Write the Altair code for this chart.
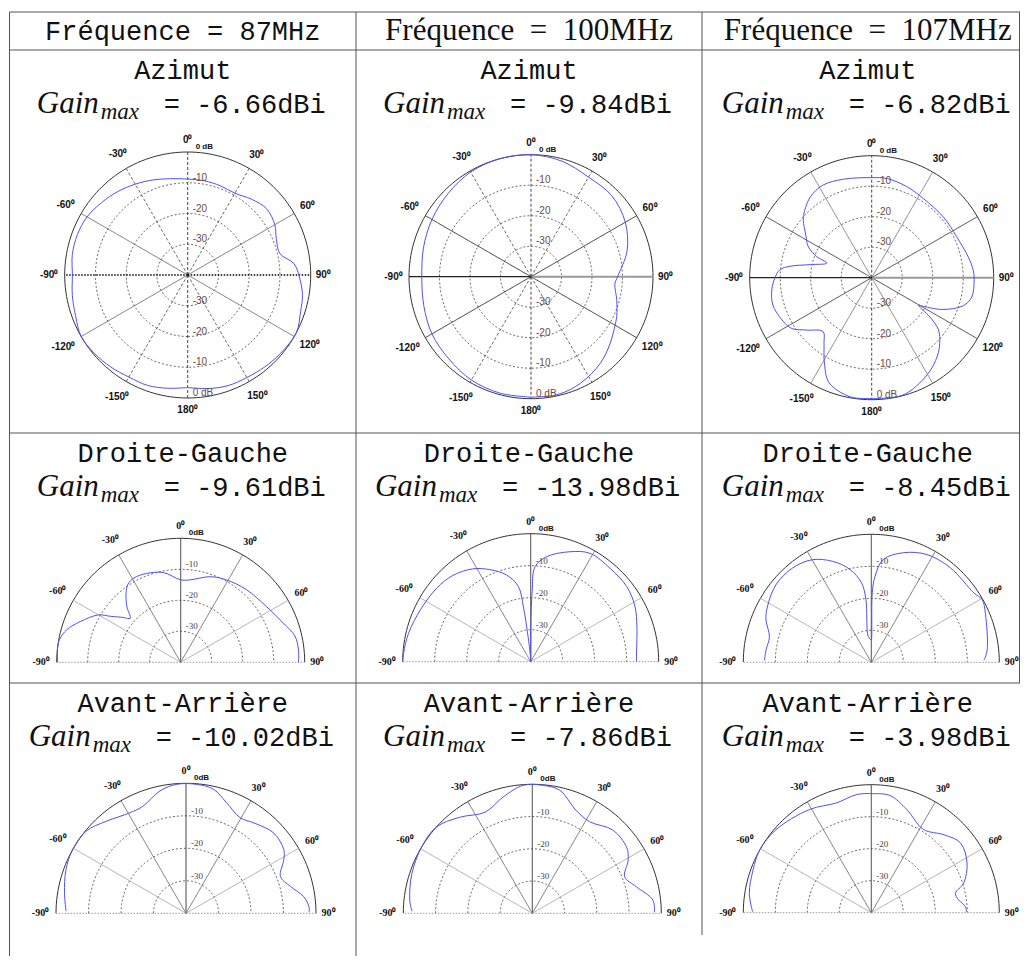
import math
import pandas as pd
import altair as alt

# ---------------- data ----------------
HEADERS = ["Fréquence = 87MHz", "Fréquence\u2002=\u2002100MHz", "Fréquence\u2002=\u2002107MHz"]
ROW_TITLES = ["Azimut", "Droite-Gauche", "Avant-Arrière"]
GAINS = [["-6.66", "-9.84", "-6.82"],
         ["-9.61", "-13.98", "-8.45"],
         ["-10.02", "-7.86", "-3.98"]]

# Azimut (full circle), angle in degrees (0 = top, clockwise), level in dB
AZ87_ANG = [-180, -170, -160, -150, -140, -130, -120, -110, -100, -90, -80, -70, -60, -50, -40, -30, -20, -10,
            0, 10, 20, 30, 40, 50, 60, 68, 77, 84, 92, 100, 108, 118, 130, 140, 150, 160, 170, 180]
AZ87_DB = [-3.4, -2.6, -1.8, -1.7, -1.0, -0.4, 0.0, -1.2, -1.9, -2.5, -1.9, -1.8, -2.2, -3.4, -4.6, -5.9, -7.1, -8.2,
           -8.8, -8.9, -9.1, -9.3, -7.8, -6.5, -7.3, -8.9, -9.2, -5.2, -3.5, -2.1, -1.4, 0.0, -0.5, -1.0, -1.5, -1.7, -2.5, -3.4]

AZ100_ANG = [-180, -165, -150, -135, -120, -105, -90, -75, -60, -45, -30, -15, 0, 15, 30, 45, 60, 75,
             90, 95, 105, 115, 121, 130, 141, 155, 167, 180]
AZ100_DB = [-0.5, -0.5, -0.9, -1.9, -2.5, -3.6, -4.2, -3.5, -2.5, -1.5, -0.4, 0.0, 0.0, -0.8, -2.3, -2.5, -4.3, -7.4,
            -11.6, -12.4, -10.9, -9.0, -8.0, -6.1, -3.7, -1.5, -0.4, -0.5]

AZ107_ANG = [-180, -170, -158, -151, -144, -138, -129, -123, -119, -106, -97, -90, -85, -82, -78, -72, -69, -64,
             -56, -50, -45, -37, -28, -16, 0, 9, 21, 33, 50, 64, 78, 86, 91, 101, 107, 114, 119, 120.5, 124,
             128, 134, 140, 150, 165, 180]
AZ107_DB = [-0.4, -0.3, -2.8, -8.0, -13.4, -16.2, -12.7, -9.2, -8.1, -6.4, -7.0, -8.3, -9.8, -13.0, -19.4, -24.5,
            -20.7, -16.9, -13.8, -10.7, -8.9, -6.7, -5.7, -6.4, -7.2, -7.1, -8.0, -9.0, -9.2, -9.1, -7.6, -6.6,
            -6.4, -6.6, -8.6, -14.4, -20.6, -22.3, -17.0, -12.2, -9.0, -6.5, -3.4, -0.2, -0.4]

# Droite-Gauche (half circle)
DG87_ANG = [-90, -83, -79, -74, -68, -60, -57, -52, -49, -44, -38, -34, -29, -21, -11, 0, 6, 19, 29, 42, 57, 69, 77, 84, 90]
DG87_DB = [-0.3, 0.0, -0.3, -1.8, -5.0, -9.4, -12.7, -16.5, -18.4, -15.0, -11.4, -9.6, -8.9, -9.3, -10.5, -13.4,
           -13.3, -10.8, -9.6, -8.4, -7.0, -4.6, -2.2, -1.8, -2.0]

DG100_ANG = [-90, -86, -77, -65, -52, -42, -32, -24, -15.5, -9.3, -7.6, -6, -3, -1, 0.5, 1.2, 2.6, 8.7, 19.7,
             28.7, 40.4, 52, 62, 72, 87, 90]
DG100_DB = [0.0, -0.2, -0.8, -1.9, -2.7, -3.7, -5.8, -8.5, -11.9, -16.2, -22.7, -32.0, -38.0, -40.0, -25.0, -18.0,
            -10.3, -6.8, -3.5, -1.4, -1.7, -1.9, -3.1, -5.1, -6.9, -6.9]

DG107_ANG = [-89, -83, -76, -68, -62, -51, -40, -30, -21, -13, -7, -4.9, -6.7, 0, 0.8, 0.8, 2.5, 6.7, 16.4, 27.3,
             40, 56, 60.5, 66.7, 84, 89]
DG107_DB = [-6.6, -6.9, -7.2, -4.5, -3.2, -1.6, -1.6, -3.0, -6.2, -10.2, -15.0, -20.3, -31.9, -33.0, -32.5, -18.3,
            -13.1, -7.6, -4.3, -2.1, -1.5, -1.3, -0.2, -1.2, -3.6, -4.8]

# Avant-Arriere (half circle)
AA87_ANG = [-89, -80.6, -70, -60.7, -50.6, -41, -29, -22, -12, -4, 5, 12.5, 20, 29.6, 37, 47.5, 57, 61.3, 68.7,
            75.6, 82, 87, 89.5]
AA87_DB = [-3.1, -2.1, -0.7, 0.0, -0.2, -2.5, -4.6, -4.5, -1.5, -0.2, -0.2, -0.9, -3.7, -6.2, -5.2, -3.4, -4.1,
           -5.7, -8.8, -6.8, -3.4, -2.1, -2.1]

AA100_ANG = [-89, -84, -72, -59, -48, -37, -25, -14, -4, 5, 12.6, 23, 32, 44, 55, 61, 68.4, 75.7, 83.7, 89.5]
AA100_DB = [-2.7, -1.8, -0.7, 0.0, 0.0, -2.7, -5.4, -2.8, -0.2, -0.2, -0.9, -5.3, -6.5, -4.1, -4.3, -6.0, -9.2,
            -6.7, -2.4, -2.1]

AA107_ANG = [-89.5, -81, -70, -60.6, -49, -31, -17.6, -7, 1, 9, 19, 32, 43, 52, 62.6, 72.3, 77, 81.7, 86.3, 89.5]
AA107_DB = [-2.9, -1.4, -0.7, 0.0, -0.5, -2.4, -4.0, -2.8, -2.8, -2.9, -5.9, -9.3, -6.7, -4.6, -6.3, -9.7, -13.0,
            -12.4, -10.5, -10.3]

RING_LEVELS = [-30, -20, -10, 0]
FULL_TICKS = [0, 30, 60, 90, 120, 150, 180, -150, -120, -90, -60, -30]
HALF_TICKS = [-90, -60, -30, 0, 30, 60, 90]

# ---------------- layout (page pixels) ----------------
W, H = 1012, 948
X0, Y0 = 8, 8
COL_X = [9.5, 356, 702, 1027.5]
ROW_Y = [12, 50, 433, 683]
RIGHT_EDGE = X0 + W - 0.5

PANELS = [
    # key, kind, cx, cy, R, angles, levels
    ("az87", "full", 187.7, 275.0, 123, AZ87_ANG, AZ87_DB),
    ("az100", "full", 531.0, 276.7, 122, AZ100_ANG, AZ100_DB),
    ("az107", "full", 871.7, 277.7, 122, AZ107_ANG, AZ107_DB),
    ("dg87", "half", 180.7, 662.3, 124, DG87_ANG, DG87_DB),
    ("dg100", "half", 530.7, 661.7, 128, DG100_ANG, DG100_DB),
    ("dg107", "half", 871.3, 662.3, 128, DG107_ANG, DG107_DB),
    ("aa87", "half", 186.0, 913.3, 130, AA87_ANG, AA87_DB),
    ("aa100", "half", 532.3, 913.3, 129, AA100_ANG, AA100_DB),
    ("aa107", "half", 871.3, 912.7, 128, AA107_ANG, AA107_DB),
]

# spoke styles (colour, width, dash style)
FULL_SPOKES = {
    "az87": {0: ("#333", 0.9, "dash"), 180: ("#333", 0.9, "dash"), 30: ("#444", 0.8, "dash"),
             -150: ("#444", 0.8, "dash"), -30: ("#444", 0.8, "dash"), 150: ("#444", 0.8, "dash"),
             60: ("#555", 0.8, "solid"), -120: ("#555", 0.8, "solid"), -60: ("#555", 0.8, "solid"),
             120: ("#555", 0.8, "solid"), 90: ("#000", 1.4, "dot"), -90: ("#000", 1.4, "dot")},
    "az100": {0: ("#333", 0.9, "dash"), 180: ("#333", 0.9, "dash"), 30: ("#444", 0.8, "dash"),
              -150: ("#444", 0.8, "dash"), -30: ("#444", 0.8, "dash"), 150: ("#444", 0.8, "dash"),
              60: ("#222", 0.9, "solid"), -120: ("#222", 0.9, "solid"), -60: ("#222", 0.9, "solid"),
              120: ("#222", 0.9, "solid"), 90: ("#999", 2.0, "solid"), -90: ("#222", 1.2, "solid")},
    "az107": {0: ("#333", 0.9, "dash"), 180: ("#333", 0.9, "dash"), 30: ("#777", 0.9, "solid"),
              -150: ("#777", 0.9, "solid"), -30: ("#777", 0.9, "solid"), 150: ("#777", 0.9, "solid"),
              60: ("#333", 0.9, "solid"), -120: ("#333", 0.9, "solid"), -60: ("#333", 0.9, "solid"),
              120: ("#333", 0.9, "solid"), 90: ("#999", 2.0, "solid"), -90: ("#222", 1.2, "solid")},
}
HALF_SPOKES = {0: ("#333", 1.0, "solid"), 30: ("#555", 0.8, "solid"), -30: ("#555", 0.8, "solid"),
               60: ("#999", 0.8, "solid"), -60: ("#999", 0.8, "solid"),
               90: ("#999", 1.0, "dot"), -90: ("#999", 1.0, "dot")}

# ---------------- tables for the library ----------------
curve_rows, ring_rows, spoke_rows, tick_rows, rlab_rows, zlab_rows = [], [], [], [], [], []
for key, kind, cx, cy, R, angs, dbs in PANELS:
    geo = dict(panel=key, cx=cx, cy=cy, R=R)
    for i, (a, d) in enumerate(zip(angs, dbs)):
        curve_rows.append(dict(geo, i=i, ang=a, db=d))
    lo, hi = (-180, 180) if kind == "full" else (-90, 90)
    for lev in RING_LEVELS:
        for i, a in enumerate(range(lo, hi + 1, 2)):
            ring_rows.append(dict(geo, ring=f"{key}{lev}", i=i, ang=a, db=lev, outer=int(lev == 0)))
    styles = FULL_SPOKES[key] if kind == "full" else HALF_SPOKES
    for a, (col, sw, st) in styles.items():
        spoke_rows.append(dict(geo, ang=a, col=col, sw=sw, st=st))
    ticks = FULL_TICKS if kind == "full" else HALF_TICKS
    for a in ticks:
        txt = f"{a}⁰"
        tick_rows.append(dict(geo, ang=a, db=0, txt=txt, kind=kind, hw=(len(txt) - 1) * 3.0 + 2.5))
    for lev in RING_LEVELS[:3]:
        rlab_rows.append(dict(geo, ang=0, db=lev, txt=str(lev), kind=kind))
        if kind == "full":
            rlab_rows.append(dict(geo, ang=180, db=lev, txt=str(lev), kind=kind))
    if kind == "full":
        rlab_rows.append(dict(geo, ang=180, db=0, txt="0 dB", kind=kind))
        zlab_rows.append(dict(geo, ang=0, db=0, txt="0 dB", kind=kind))
    else:
        zlab_rows.append(dict(geo, ang=0, db=0, txt="0dB", kind=kind))

curves = pd.DataFrame(curve_rows)
rings = pd.DataFrame(ring_rows)
spokes = pd.DataFrame(spoke_rows)
ticks_df = pd.DataFrame(tick_rows)
rlabs = pd.DataFrame(rlab_rows)
zlabs = pd.DataFrame(zlab_rows)

# table frame
lines = pd.DataFrame([
    dict(x=COL_X[0], x2=X0 + W, y=ROW_Y[0], y2=ROW_Y[0]),
    dict(x=COL_X[0], x2=X0 + W, y=ROW_Y[1], y2=ROW_Y[1]),
    dict(x=COL_X[0], x2=X0 + W, y=ROW_Y[2], y2=ROW_Y[2]),
    dict(x=COL_X[0], x2=X0 + W, y=ROW_Y[3], y2=ROW_Y[3]),
    dict(x=COL_X[0], x2=COL_X[0], y=ROW_Y[0], y2=Y0 + H),
    dict(x=COL_X[1], x2=COL_X[1], y=ROW_Y[0], y2=Y0 + H),
    dict(x=COL_X[2], x2=COL_X[2], y=ROW_Y[0], y2=935),
    dict(x=RIGHT_EDGE, x2=RIGHT_EDGE, y=ROW_Y[0], y2=ROW_Y[3]),
])

# cell texts
head_rows, title_rows, gain_rows, sub_rows, val_rows = [], [], [], [], []
MONO_W = 16.2
for c in range(3):
    cxc = (COL_X[c] + COL_X[c + 1]) / 2 + (3 if c == 2 else 0)
    head_rows.append(dict(x=cxc, y=40, txt=HEADERS[c], mono=int(c == 0)))
    for r in range(3):
        top = ROW_Y[r + 1]
        title_rows.append(dict(x=cxc, y=top + 29, txt=ROW_TITLES[r]))
        mono = f"= {GAINS[r][c]}dBi"
        start = cxc - (124 + MONO_W * len(mono)) / 2
        gb = top + 63
        gain_rows.append(dict(x=start - 3, y=gb, txt="Gain"))
        sub_rows.append(dict(x=start + 61, y=gb + 6, txt="max"))
        val_rows.append(dict(x=start + 124, y=gb, txt=mono))
heads = pd.DataFrame(head_rows)
titles = pd.DataFrame(title_rows)
gains = pd.DataFrame(gain_rows)
subs = pd.DataFrame(sub_rows)
vals = pd.DataFrame(val_rows)

# ---------------- chart ----------------
XS = alt.Scale(domain=[X0, X0 + W], nice=False, zero=False)
YS = alt.Scale(domain=[Y0 + H, Y0], nice=False, zero=False)


def X(f):
    return alt.X(f"{f}:Q", scale=XS, axis=None)


def Y(f):
    return alt.Y(f"{f}:Q", scale=YS, axis=None)


def polar(ch):
    return ch.transform_calculate(
        rr="datum.R * (max(datum.db, -40) + 40) / 40"
    ).transform_calculate(
        px="datum.cx + datum.rr * sin(datum.ang * PI / 180)",
        py="datum.cy - datum.rr * cos(datum.ang * PI / 180)",
    )


layers = []

# table lines
layers.append(alt.Chart(lines).mark_rule(color="#555", strokeWidth=1).encode(
    x=X("x"), x2="x2:Q", y=Y("y"), y2="y2:Q"))

# rings
layers.append(polar(alt.Chart(rings[rings.outer == 0])).mark_line(
    color="#444", strokeWidth=0.8, strokeDash=[2, 2]).encode(
    x=X("px"), y=Y("py"), detail="ring:N", order="i:Q"))
layers.append(polar(alt.Chart(rings[rings.outer == 1])).mark_line(
    color="#333", strokeWidth=1).encode(
    x=X("px"), y=Y("py"), detail="ring:N", order="i:Q"))

# spokes
DASHES = {"solid": [1, 0], "dash": [3, 2], "dot": [1.5, 1.5]}
for st, dash in DASHES.items():
    sub = spokes[spokes.st == st]
    if len(sub) == 0:
        continue
    layers.append(alt.Chart(sub).transform_calculate(
        ex="datum.cx + datum.R * sin(datum.ang * PI / 180)",
        ey="datum.cy - datum.R * cos(datum.ang * PI / 180)",
    ).mark_rule(strokeDash=dash).encode(
        x=X("cx"), y=Y("cy"), x2="ex:Q", y2="ey:Q",
        color=alt.Color("col:N", scale=None),
        strokeWidth=alt.StrokeWidth("sw:Q", scale=None)))

# pattern curves
layers.append(polar(alt.Chart(curves)).mark_line(
    color="#4f4fff", strokeWidth=1, interpolate="catmull-rom").encode(
    x=X("px"), y=Y("py"), detail="panel:N", order="i:Q"))

# angle labels
for kind, font, size in [("full", "Liberation Sans", 10), ("half", "Liberation Serif", 10)]:
    sub = ticks_df[ticks_df.kind == kind]
    layers.append(alt.Chart(sub).transform_calculate(
        d="datum.R + 4 + 8 * abs(cos(datum.ang * PI / 180)) + datum.hw * abs(sin(datum.ang * PI / 180))"
    ).transform_calculate(
        px="datum.cx + datum.d * sin(datum.ang * PI / 180)",
        py="datum.cy - datum.d * cos(datum.ang * PI / 180)",
    ).mark_text(font=font, fontSize=size, fontWeight="bold", color="#111",
                align="center", baseline="middle").encode(
        x=X("px"), y=Y("py"), text="txt:N"))

# ring level labels
layers.append(polar(alt.Chart(rlabs[rlabs.kind == "full"])).mark_text(
    font="Liberation Sans", fontSize=10, color="#6e4a42", align="left", baseline="bottom", dx=5).encode(
    x=X("px"), y=Y("py"), text="txt:N"))
layers.append(polar(alt.Chart(rlabs[rlabs.kind == "half"])).mark_text(
    font="Liberation Serif", fontSize=9, color="#444", align="left", baseline="bottom", dx=5).encode(
    x=X("px"), y=Y("py"), text="txt:N"))
layers.append(polar(alt.Chart(zlabs)).mark_text(
    font="Liberation Sans", fontSize=8, fontWeight="bold", color="#111", align="left",
    baseline="bottom", dx=8, dy=-1).encode(
    x=X("px"), y=Y("py"), text="txt:N"))

# header texts
layers.append(alt.Chart(heads[heads.mono == 1]).mark_text(
    font="Liberation Mono", fontSize=27, color="#111", align="center", baseline="alphabetic").encode(
    x=X("x"), y=Y("y"), text="txt:N"))
layers.append(alt.Chart(heads[heads.mono == 0]).mark_text(
    font="Liberation Serif", fontSize=31, color="#111", align="center", baseline="alphabetic").encode(
    x=X("x"), y=Y("y"), text="txt:N"))
layers.append(alt.Chart(titles).mark_text(
    font="Liberation Mono", fontSize=27, color="#111", align="center", baseline="alphabetic").encode(
    x=X("x"), y=Y("y"), text="txt:N"))
layers.append(alt.Chart(gains).mark_text(
    font="Liberation Serif", fontSize=31, fontStyle="italic", color="#111", align="left",
    baseline="alphabetic").encode(x=X("x"), y=Y("y"), text="txt:N"))
layers.append(alt.Chart(subs).mark_text(
    font="Liberation Serif", fontSize=23, fontStyle="italic", color="#111", align="left",
    baseline="alphabetic").encode(x=X("x"), y=Y("y"), text="txt:N"))
layers.append(alt.Chart(vals).mark_text(
    font="Liberation Mono", fontSize=27, color="#111", align="left", baseline="alphabetic").encode(
    x=X("x"), y=Y("y"), text="txt:N"))

chart = alt.layer(*layers).properties(
    width=W, height=H, padding=0,
    autosize=alt.AutoSizeParams(type="none"),
    background="white",
).configure_view(strokeWidth=0)

chart.save("out.html", embed_options={"renderer": "svg", "actions": False})
